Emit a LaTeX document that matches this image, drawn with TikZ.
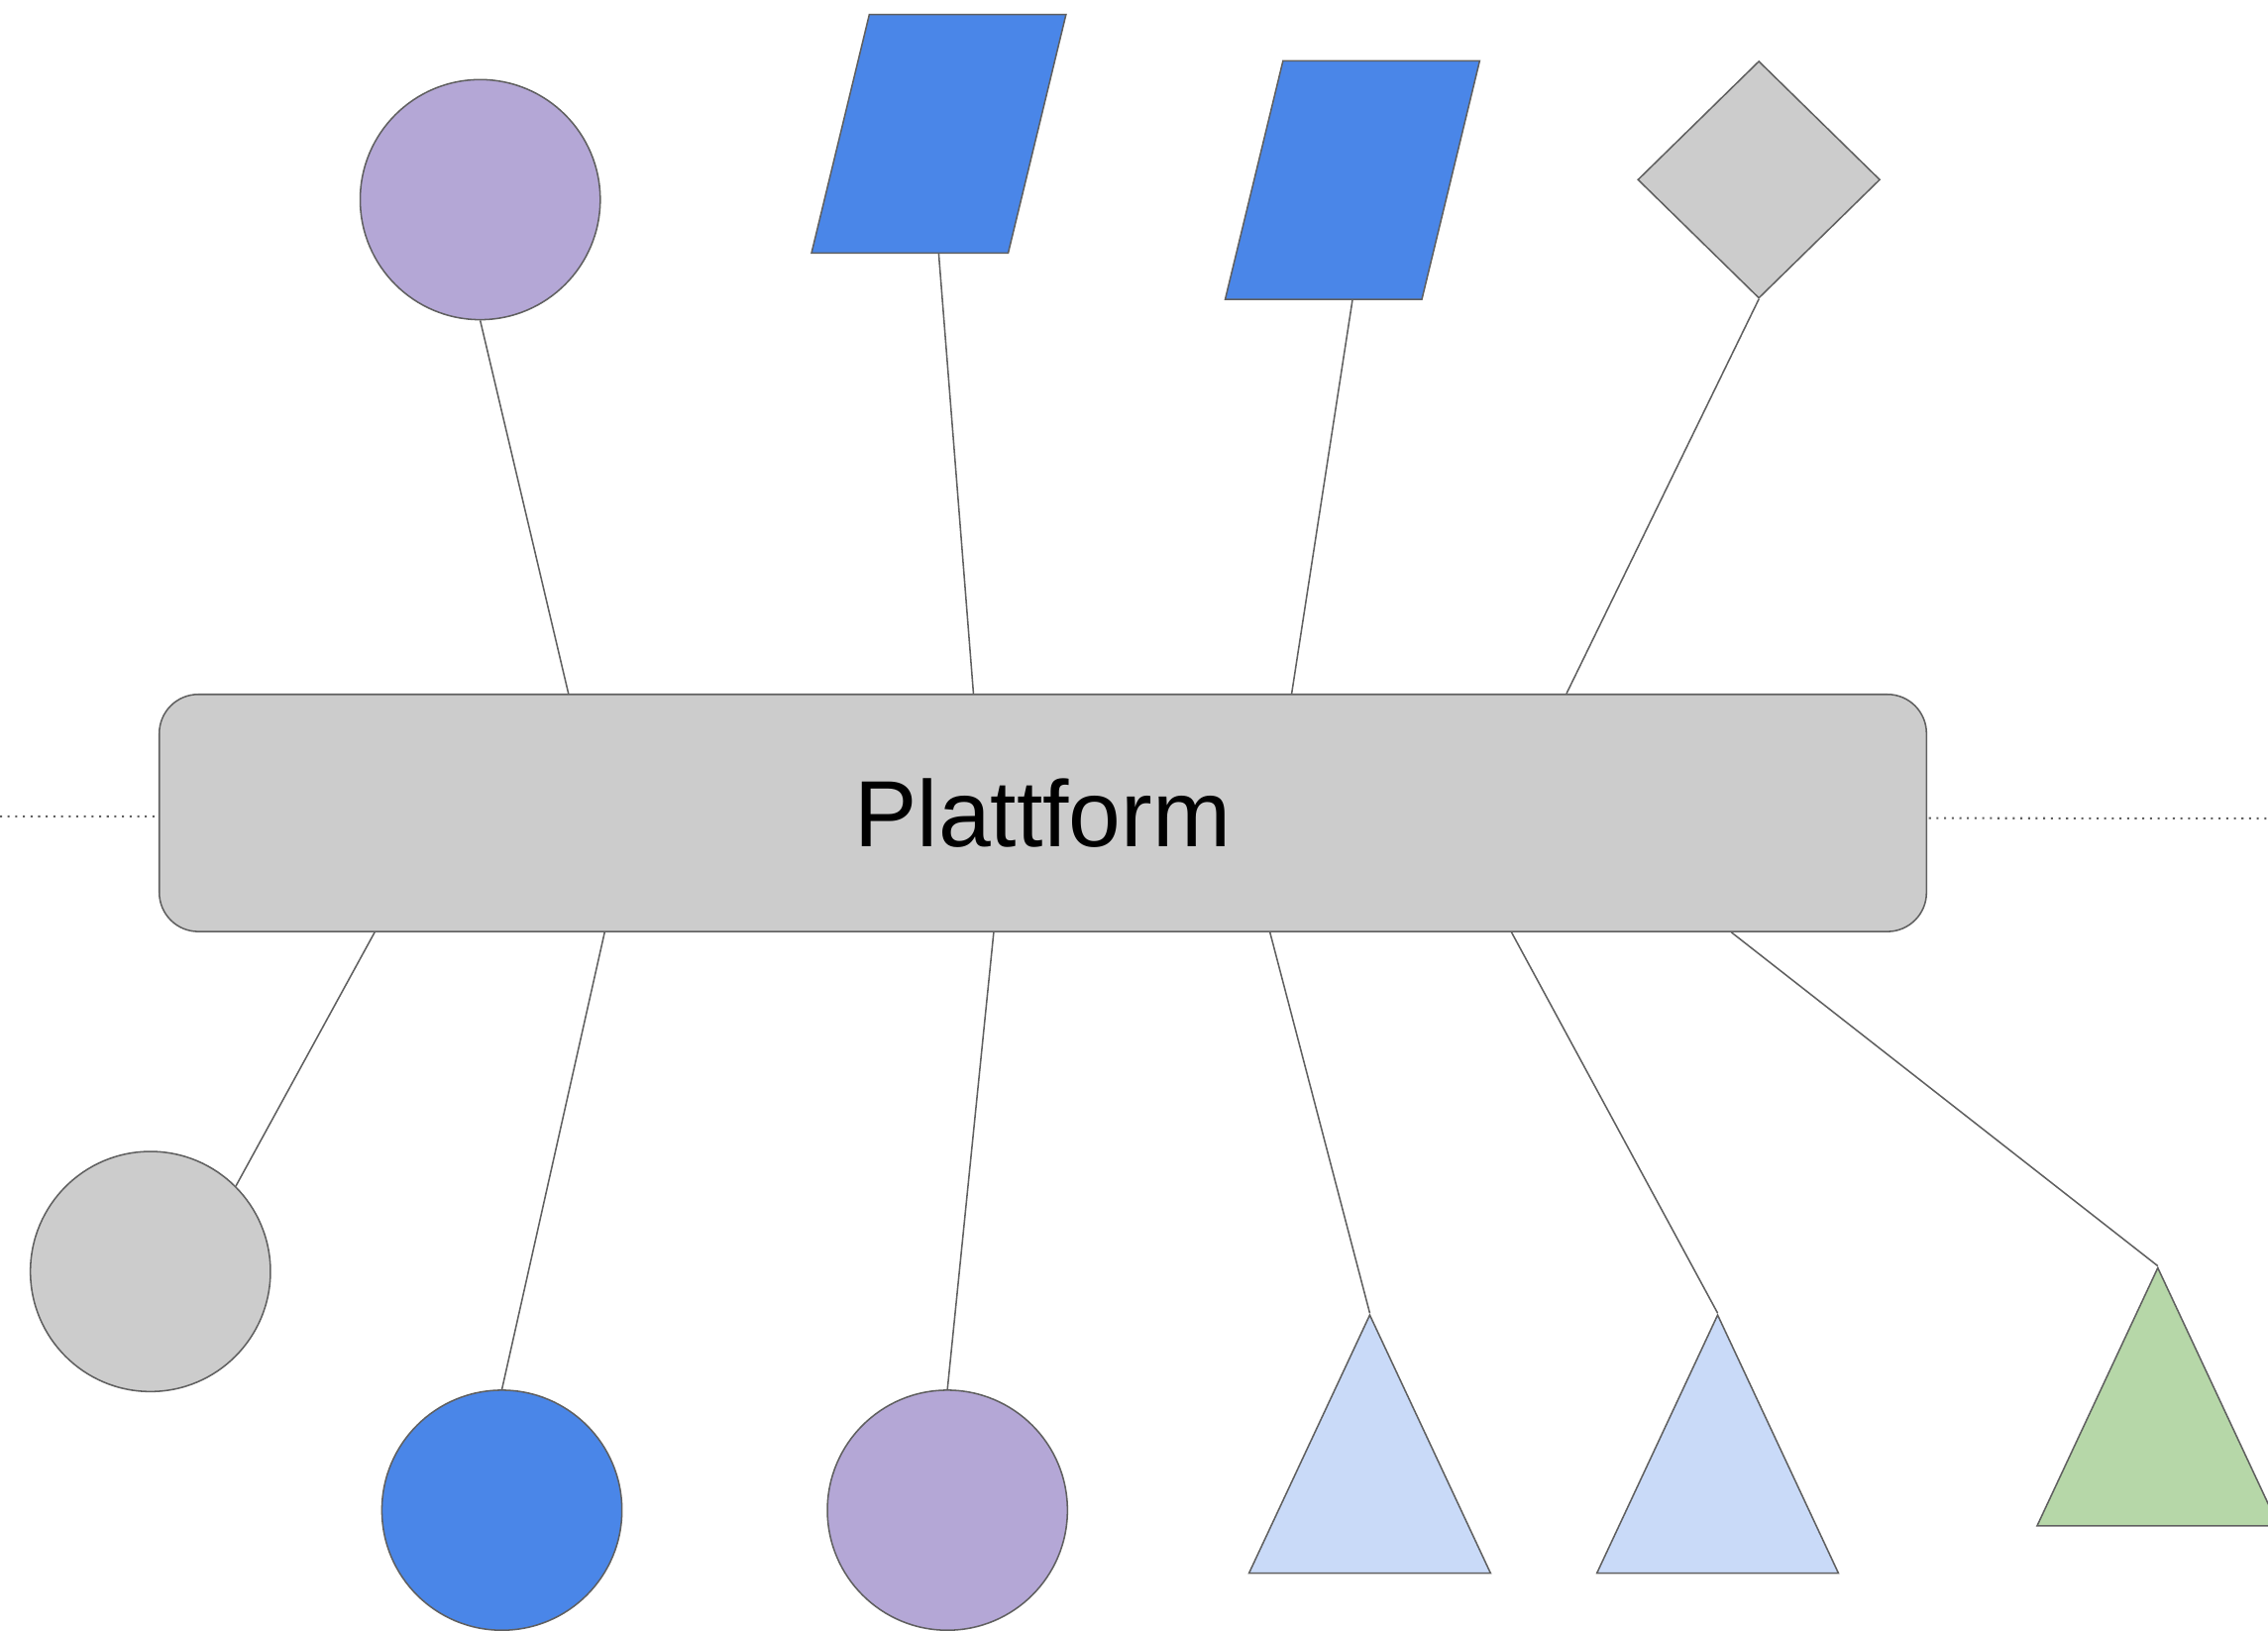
\documentclass[tikz,border=0pt]{standalone}
\usepackage{fontspec}
\setmainfont{Liberation Sans}
\usepackage{tikz}
\usetikzlibrary{shapes.geometric,calc}
\definecolor{rand}{HTML}{606060}
\definecolor{grau}{HTML}{CCCCCC}
\definecolor{lila}{HTML}{B4A7D6}
\definecolor{blau}{HTML}{4A86E8}
\definecolor{hellblau}{HTML}{C9DAF8}
\definecolor{gruen}{HTML}{B6D7A8}

\begin{document}
\begin{tikzpicture}[x=0.02cm,y=-0.02cm,
  every node/.style={draw=rand, line width=0.6pt, inner sep=0pt},
  kreis/.style={circle, minimum size=3.32cm},
  schief/.style={xslant=0.2424, minimum width=2.72cm, minimum height=3.3cm},
  raute/.style={diamond, minimum width=3.35cm, minimum height=3.28cm},
  dreieck/.style={regular polygon, regular polygon sides=3, minimum size=3.856cm, yscale=1.234},
  verb/.style={draw=rand, line width=0.6pt}]
  \useasboundingbox (0,0) rectangle (1568,1127);

  % gepunktete Linie hinter der Plattform
  \coordinate (links) at (0,564.3);
  \coordinate (rechts) at (1568,565.8);
  \draw[rand, line width=0.8pt, dash pattern=on 0.8pt off 2.2pt] (links) -- (rechts);

  \node [fill=grau, rounded corners=0.54cm, minimum width=24.44cm, minimum height=3.28cm,
         font=\fontsize{37}{44}\selectfont] (plat) at (721,562) {Plattform};

  % oben
  \node [kreis, fill=lila] (k1) at (332,138) {};
  \node [schief, fill=blau] (p1) at (649,92.5) {};
  \node [schief, fill=blau] (p2) at (935,124.5) {};
  \node [raute, fill=grau] (r1) at (1216,124.2) {};

  % unten
  \node [kreis, fill=grau] (k2) at (104,879) {};
  \node [kreis, fill=blau] (k3) at (347,1044) {};
  \node [kreis, fill=lila] (k4) at (655,1044) {};
  \node [dreieck, fill=hellblau] (d1) at (947,1028) {};
  \node [dreieck, fill=hellblau] (d2) at (1187.5,1028) {};
  \node [dreieck, fill=gruen] (d3) at (1491.8,995.4) {};

  \draw[verb] (k1.south) -- ($(plat.north)+(-328,0)$);
  \draw[verb] (p1.center |- p1.south) -- ($(plat.north)+(-48,0)$);
  \draw[verb] (p2.center |- p2.south) -- ($(plat.north)+(172,0)$);
  \draw[verb] (r1.south) -- ($(plat.north)+(362,0)$);

  \draw[verb] ($(plat.south)+(-462,0)$) -- (k2.north east);
  \draw[verb] ($(plat.south)+(-303,0)$) -- (k3.north);
  \draw[verb] ($(plat.south)+(-34,0)$) -- (k4.north);
  \draw[verb] ($(plat.south)+(157,0)$) -- (d1.corner 1);
  \draw[verb] ($(plat.south)+(324,0)$) -- (d2.corner 1);
  \draw[verb] ($(plat.south)+(476,0)$) -- (d3.corner 1);
\end{tikzpicture}
\end{document}
